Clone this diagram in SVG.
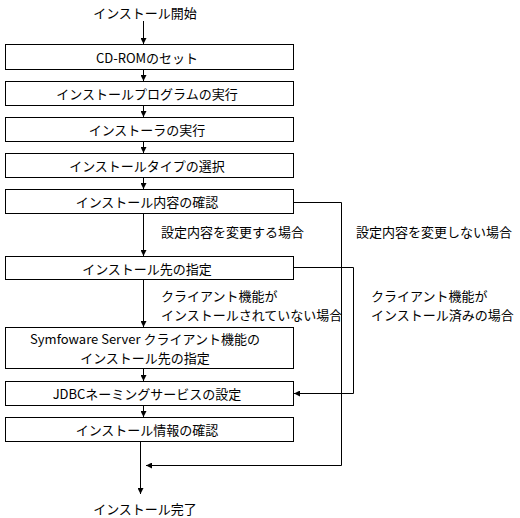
<svg xmlns="http://www.w3.org/2000/svg" width="520" height="518" viewBox="0 0 520 518">
<style>
  .box { fill: #ffffff; stroke: #000000; stroke-width: 1; }
  .t { font-family: "Noto Sans CJK JP", "Liberation Sans", sans-serif; font-size: 13px; fill: #000000; dominant-baseline: central; }
  .c { text-anchor: middle; }
  .line { fill: none; stroke: #000000; stroke-width: 1; }
</style>
<defs>
  <marker id="arr" markerWidth="6" markerHeight="6" refX="6" refY="3" orient="auto" markerUnits="userSpaceOnUse">
    <path d="M0,0 L6,3 L0,6 Z" fill="#000000"/>
  </marker>
</defs>
<rect width="520" height="518" fill="#ffffff"/>

<g id="connectors">
  <path class="line" d="M143.5,21 V44" marker-end="url(#arr)"/>
  <path class="line" d="M143.5,69.5 V81" marker-end="url(#arr)"/>
  <path class="line" d="M143.5,105.5 V117" marker-end="url(#arr)"/>
  <path class="line" d="M143.5,141.5 V153" marker-end="url(#arr)"/>
  <path class="line" d="M143.5,177.5 V189" marker-end="url(#arr)"/>
  <path class="line" d="M143.5,213.5 V256" marker-end="url(#arr)"/>
  <path class="line" d="M143.5,279.5 V327" marker-end="url(#arr)"/>
  <path class="line" d="M143.5,368.5 V381" marker-end="url(#arr)"/>
  <path class="line" d="M143.5,405.5 V417" marker-end="url(#arr)"/>
  <path class="line" d="M140.5,441.5 V494" marker-end="url(#arr)"/>
  <path class="line" d="M293.5,202.5 H341.5 V465.5 H146" marker-end="url(#arr)"/>
  <path class="line" d="M293.5,267.5 H353.5 V393.5 H294" marker-end="url(#arr)"/>
</g>

<g id="start">
  <text class="t c" x="145" y="12">インストール開始</text>
</g>
<g id="n1">
  <rect class="box" x="5.5" y="44.5" width="288" height="25"/>
  <text class="t c" x="147" y="57">CD-ROMのセット</text>
</g>
<g id="n2">
  <rect class="box" x="5.5" y="81.5" width="288" height="24"/>
  <text class="t c" x="147" y="93.5">インストールプログラムの実行</text>
</g>
<g id="n3">
  <rect class="box" x="5.5" y="117.5" width="288" height="24"/>
  <text class="t c" x="147" y="129.5">インストーラの実行</text>
</g>
<g id="n4">
  <rect class="box" x="5.5" y="153.5" width="288" height="24"/>
  <text class="t c" x="147" y="165.5">インストールタイプの選択</text>
</g>
<g id="n5">
  <rect class="box" x="5.5" y="189.5" width="288" height="24"/>
  <text class="t c" x="147" y="201.5">インストール内容の確認</text>
</g>
<g id="n6">
  <rect class="box" x="5.5" y="256.5" width="288" height="23"/>
  <text class="t c" x="147" y="268">インストール先の指定</text>
</g>
<g id="n7">
  <rect class="box" x="5.5" y="327.5" width="288" height="41"/>
  <text class="t c" x="145" y="338">Symfoware Server クライアント機能の</text>
  <text class="t c" x="145" y="357.5">インストール先の指定</text>
</g>
<g id="n8">
  <rect class="box" x="5.5" y="381.5" width="288" height="24"/>
  <text class="t c" x="147" y="393.5">JDBCネーミングサービスの設定</text>
</g>
<g id="n9">
  <rect class="box" x="5.5" y="417.5" width="288" height="24"/>
  <text class="t c" x="147" y="429.5">インストール情報の確認</text>
</g>
<g id="end">
  <text class="t c" x="145" y="508">インストール完了</text>
</g>

<g id="labels">
  <text class="t" x="161" y="231">設定内容を変更する場合</text>
  <text class="t" x="356" y="231">設定内容を変更しない場合</text>
  <text class="t" x="161" y="295">クライアント機能が</text>
  <text class="t" x="161" y="314.5">インストールされていない場合</text>
  <text class="t" x="371" y="295">クライアント機能が</text>
  <text class="t" x="371" y="314.5">インストール済みの場合</text>
</g>
</svg>
